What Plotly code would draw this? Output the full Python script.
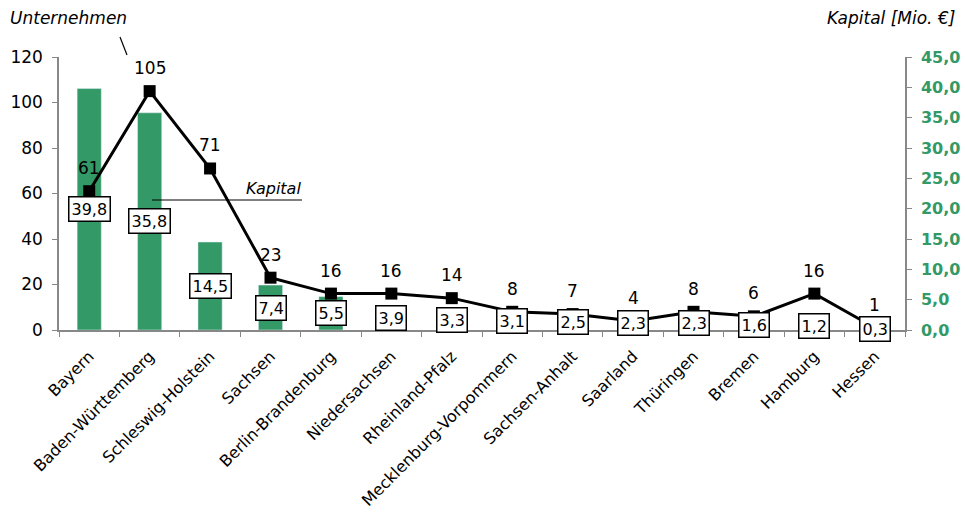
import plotly.graph_objects as go

laender = ["Bayern", "Baden-Württemberg", "Schleswig-Holstein", "Sachsen",
           "Berlin-Brandenburg", "Niedersachsen", "Rheinland-Pfalz",
           "Mecklenburg-Vorpommern", "Sachsen-Anhalt", "Saarland", "Thüringen",
           "Bremen", "Hamburg", "Hessen"]
unternehmen = [61, 105, 71, 23, 16, 16, 14, 8, 7, 4, 8, 6, 16, 1]
kapital = [39.8, 35.8, 14.5, 7.4, 5.5, 3.9, 3.3, 3.1, 2.5, 2.3, 2.3, 1.6, 1.2, 0.3]

left_ticks = [0, 20, 40, 60, 80, 100, 120]
right_ticks = [0, 5, 10, 15, 20, 25, 30, 35, 40, 45]

GREEN = "#339966"
FONT = "DejaVu Sans"

fig = go.Figure()
fig.add_trace(go.Bar(x=laender, y=kapital, marker_color=GREEN, width=0.4,
                     yaxis="y", showlegend=False, hoverinfo="skip"))
fig.add_trace(go.Scatter(x=laender, y=unternehmen, yaxis="y2",
                         mode="lines+markers",
                         line=dict(color="black", width=3),
                         marker=dict(symbol="square", size=12, color="black"),
                         showlegend=False, hoverinfo="skip"))

annotations = []
for name, v in zip(laender, kapital):
    annotations.append(dict(x=name, y=v / 2, xref="x", yref="y",
                            text=f"{v:.1f}".replace(".", ","), showarrow=False,
                            font=dict(family=FONT, size=16, color="black"),
                            bgcolor="white", bordercolor="black", borderwidth=1.5,
                            borderpad=2))
for name, v in zip(laender, unternehmen):
    annotations.append(dict(x=name, y=v, xref="x", yref="y2", yshift=23,
                            text=str(v), showarrow=False,
                            font=dict(family=FONT, size=17, color="black")))

def px(x):
    return (x - 59) / 846

def py(y):
    return (330 - y) / 273

annotations += [
    dict(x=px(8), y=py(18), xref="paper", yref="paper", xanchor="left",
         yanchor="middle", text="<i>Unternehmen</i>", showarrow=False,
         font=dict(family=FONT, size=17, color="black")),
    dict(x=px(957), y=py(18), xref="paper", yref="paper", xanchor="right",
         yanchor="middle", text="<i>Kapital [Mio. €]</i>", showarrow=False,
         font=dict(family=FONT, size=17, color="black")),
    dict(x=px(303), y=py(189), xref="paper", yref="paper", xanchor="right",
         yanchor="middle", text="<i>Kapital</i>", showarrow=False,
         font=dict(family=FONT, size=16, color="black")),
]

shapes = [
    dict(type="line", xref="paper", yref="paper", x0=px(120), y0=py(37),
         x1=px(127), y1=py(55), line=dict(color="black", width=1.2)),
    dict(type="line", xref="paper", yref="paper", x0=px(152), y0=py(200),
         x1=px(302), y1=py(200), line=dict(color="black", width=1.2)),
]

fig.update_layout(
    width=965, height=518,
    margin=dict(l=59, r=60, t=57, b=188),
    paper_bgcolor="white", plot_bgcolor="white",
    separators=",.",
    font=dict(family=FONT, size=16, color="black"),
    annotations=annotations,
    shapes=shapes,
    xaxis=dict(type="category", range=[-0.5, len(laender) - 0.5],
               automargin=False,
               tickangle=-45, tickson="boundaries",
               ticks="outside", ticklen=5, tickcolor="#888888",
               showline=True, linecolor="#888888", linewidth=1.5,
               showgrid=False, ticklabelstandoff=9,
               tickfont=dict(family=FONT, size=16, color="black")),
    yaxis=dict(side="right", range=[0, 45], tickvals=right_ticks, tickformat=".1f",
               automargin=False,
               showline=True, linecolor="#888888", linewidth=1.5,
               ticks="outside", ticklen=5, tickcolor="#888888",
               showgrid=False, zeroline=False, ticklabelstandoff=6,
               tickfont=dict(family=FONT, size=16, color=GREEN, weight="bold")),
    yaxis2=dict(side="left", overlaying="y", range=[0, 120], tickvals=left_ticks,
                automargin=False,
                showline=True, linecolor="#888888", linewidth=1.5,
                ticks="outside", ticklen=5, tickcolor="#888888",
                showgrid=False, zeroline=False, ticklabelstandoff=6,
                tickfont=dict(family=FONT, size=17, color="black")),
)

fig.write_html("out.html")
